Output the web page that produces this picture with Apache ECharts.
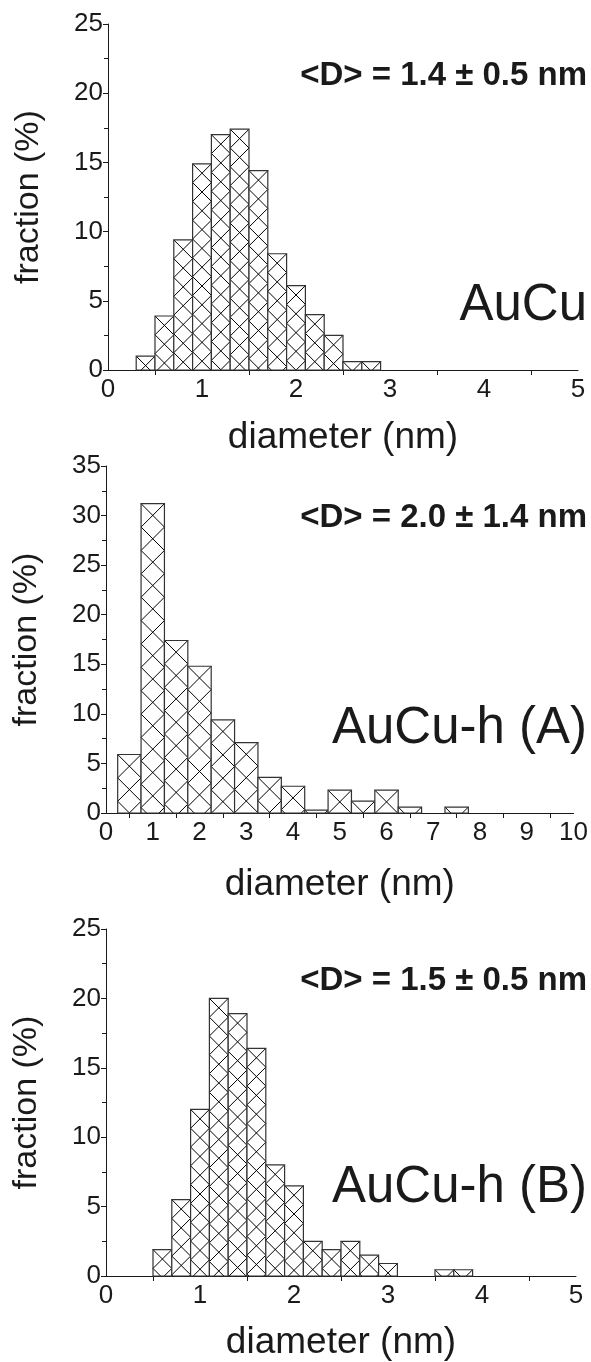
<!DOCTYPE html>
<html>
<head>
<meta charset="utf-8">
<script src="https://cdn.jsdelivr.net/npm/echarts@6/dist/echarts.min.js"></script>
<style>
  html, body { margin: 0; background: #fff; }
  #chart { width: 591px; height: 1362px; }
</style>
</head>
<body>
<div id="chart"></div>
<script>
// AuCu: bin centres (nm) and fraction (%)
const diamAuCu = [0.4, 0.6, 0.8, 1.0, 1.2, 1.4, 1.6, 1.8, 2.0, 2.2, 2.4, 2.6, 2.8]
const fracAuCu = [1.0, 3.9, 9.4, 14.9, 17.0, 17.4, 14.4, 8.4, 6.1, 4.0, 2.5, 0.6, 0.6]

// AuCu-h (A)
const diamA = [0.5, 1.0, 1.5, 2.0, 2.5, 3.0, 3.5, 4.0, 4.5, 5.0, 5.5, 6.0, 6.5, 7.0, 7.5]
const fracA = [5.9, 31.2, 17.4, 14.8, 9.4, 7.1, 3.6, 2.7, 0.3, 2.3, 1.2, 2.3, 0.6, 0, 0.6]

// AuCu-h (B)
const diamB = [0.6, 0.8, 1.0, 1.2, 1.4, 1.6, 1.8, 2.0, 2.2, 2.4, 2.6, 2.8, 3.0, 3.2, 3.4, 3.6, 3.8]
const fracB = [1.9, 5.5, 12.0, 20.0, 18.9, 16.4, 8.0, 6.5, 2.5, 1.9, 2.5, 1.5, 0.9, 0, 0, 0.45, 0.45]

const binWidths = [0.2, 0.5, 0.2]
const xMax = [5, 10, 5]
const yMax = [25, 35, 25]
const meanLabels = ['<D> = 1.4 ± 0.5 nm', '<D> = 2.0 ± 1.4 nm', '<D> = 1.5 ± 0.5 nm']
const sampleLabels = ['AuCu', 'AuCu-h (A)', 'AuCu-h (B)']

const FONT = '"Liberation Sans", Arial, sans-serif'
const INK = '#1a1a1a'

const grids = [
  { left: 108, top: 24, width: 470, height: 346 },
  { left: 106, top: 466, width: 472, height: 347 },
  { left: 106, top: 929, width: 470, height: 347 },
]
const xNameGaps = [49, 53, 48]
const sampleOffsets = [90, 110, 114]

// 每个柱子画白底 + 交叉斜线（从柱顶两角出发）+ 外框
function hatchBar(width) {
  return function (params, api) {
    const xc = api.value(0)
    const h = api.value(1)
    if (!h) return
    const tl = api.coord([xc - width / 2, h])
    const br = api.coord([xc + width / 2, 0])
    const x0 = tl[0], x1 = br[0], yT = tl[1], yB = br[1]
    const w = x1 - x0
    const lineStyle = { stroke: '#000', lineWidth: 1 }
    const children = [{
      type: 'rect',
      shape: { x: x0, y: yT, width: w, height: yB - yT },
      style: { fill: '#fff' },
    }]
    const n = Math.ceil((yB - yT) / w) + 2
    // x - y = c
    for (let k = -n; k <= 1; k++) {
      const c = x0 - yT + k * w
      const lo = Math.max(yT, x0 - c), hi = Math.min(yB, x1 - c)
      if (hi - lo > 0.5) {
        children.push({ type: 'line', shape: { x1: lo + c, y1: lo, x2: hi + c, y2: hi }, style: lineStyle })
      }
    }
    // x + y = c
    for (let k = -1; k <= n; k++) {
      const c = x1 + yT + k * w
      const lo = Math.max(yT, c - x1), hi = Math.min(yB, c - x0)
      if (hi - lo > 0.5) {
        children.push({ type: 'line', shape: { x1: c - lo, y1: lo, x2: c - hi, y2: hi }, style: lineStyle })
      }
    }
    children.push({
      type: 'rect',
      shape: { x: x0, y: yT, width: w, height: yB - yT },
      style: { fill: 'none', stroke: '#333', lineWidth: 1.2 },
    })
    return { type: 'group', children }
  }
}

const seriesData = [
  diamAuCu.map((d, i) => [d, fracAuCu[i]]),
  diamA.map((d, i) => [d, fracA[i]]),
  diamB.map((d, i) => [d, fracB[i]]),
]

const option = {
  animation: false,
  grid: grids,
  xAxis: grids.map((g, i) => ({
    type: 'value',
    gridIndex: i,
    min: 0,
    max: xMax[i],
    interval: 1,
    name: 'diameter (nm)',
    nameLocation: 'middle',
    nameGap: xNameGaps[i],
    nameTextStyle: { fontFamily: FONT, fontSize: 37, color: INK },
    axisLine: { lineStyle: { color: INK, width: 1 } },
    axisTick: { show: false },
    minorTick: { show: true, splitNumber: 2, length: 5, lineStyle: { color: INK, width: 1 } },
    splitLine: { show: false },
    axisLabel: { fontFamily: FONT, fontSize: 26, color: INK, margin: 7 },
  })),
  yAxis: grids.map((g, i) => ({
    type: 'value',
    gridIndex: i,
    min: 0,
    max: yMax[i],
    interval: 5,
    name: 'fraction (%)',
    nameLocation: 'middle',
    nameGap: 62,
    nameTextStyle: { fontFamily: FONT, fontSize: 34, color: INK },
    axisLine: { show: true, lineStyle: { color: INK, width: 1 } },
    axisTick: { show: true, length: 5, lineStyle: { color: INK, width: 1 } },
    minorTick: { show: true, splitNumber: 2, length: 4, lineStyle: { color: INK, width: 1 } },
    splitLine: { show: false },
    axisLabel: { fontFamily: FONT, fontSize: 26, color: INK, margin: 5 },
  })),
  series: seriesData.map((data, i) => ({
    type: 'custom',
    xAxisIndex: i,
    yAxisIndex: i,
    data,
    renderItem: hatchBar(binWidths[i]),
  })),
  graphic: grids.flatMap((g, i) => [
    {
      type: 'text',
      right: 4,
      top: g.top + 35,
      style: { text: meanLabels[i], font: `bold 33px ${FONT}`, fill: INK },
    },
    {
      type: 'text',
      right: 4,
      top: g.top + g.height - sampleOffsets[i],
      style: { text: sampleLabels[i], font: `51px ${FONT}`, fill: INK },
    },
  ]),
}

const chart = echarts.init(document.getElementById('chart'))
chart.setOption(option)
window.addEventListener('resize', () => chart.resize())
</script>
</body>
</html>
